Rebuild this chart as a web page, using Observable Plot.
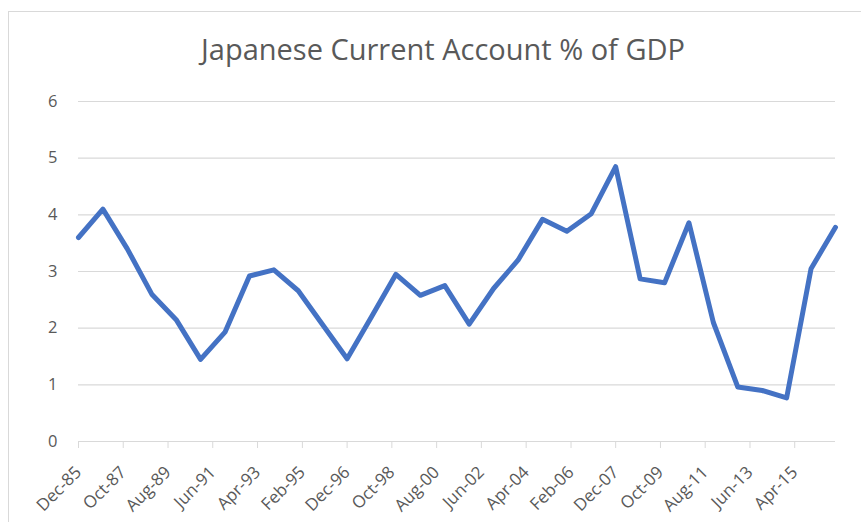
<!DOCTYPE html>
<html>
<head>
<meta charset="utf-8">
<script src="https://cdn.jsdelivr.net/npm/d3@7"></script>
<script src="https://cdn.jsdelivr.net/npm/@observablehq/plot@0.6"></script>
<style>
  html, body { margin: 0; padding: 0; background: #fff; overflow: hidden; }
  #wrap { position: relative; width: 861px; height: 522px; }
  #border { position: absolute; left: 8px; top: 11px; width: 900px; height: 600px; border: 1px solid #d9d9d9; box-sizing: border-box; }
  #chart { position: absolute; left: 0; top: 0; }
</style>
</head>
<body>
<div id="wrap"><div id="border"></div><div id="chart"></div></div>
<script>
const title = "Japanese Current Account % of GDP";
const years = [1985,1986,1987,1988,1989,1990,1991,1992,1993,1994,1995,1996,1997,1998,1999,2000,
               2001,2002,2003,2004,2005,2006,2007,2008,2009,2010,2011,2012,2013,2014,2015,2016];
const values = [3.6,4.1,3.4,2.6,2.15,1.45,1.93,2.92,3.03,2.66,2.06,1.46,2.2,2.95,2.58,2.75,
                2.07,2.7,3.2,3.92,3.71,4.02,4.85,2.87,2.8,3.86,2.1,0.96,0.9,0.77,3.05,3.78];
const tickLabels = ["Dec-85","Oct-87","Aug-89","Jun-91","Apr-93","Feb-95","Dec-96","Oct-98","Aug-00",
                    "Jun-02","Apr-04","Feb-06","Dec-07","Oct-09","Aug-11","Jun-13","Apr-15"];
const yTicks = [0,1,2,3,4,5,6];

const parse = d3.utcParse("%b-%y");
const fmt = d3.utcFormat("%b-%y");
const data = years.map((y, i) => ({date: new Date(Date.UTC(y, 11, 1)), value: values[i]}));
const xTicks = tickLabels.map(parse);

const chart = Plot.plot({
  width: 861,
  height: 522,
  marginLeft: 78,
  marginRight: 26,
  marginTop: 101,
  marginBottom: 81,
  style: {fontFamily: "'Open Sans', sans-serif", fontSize: "16px", color: "#595959", background: "transparent"},
  x: {type: "utc", domain: [data[0].date, data[data.length - 1].date]},
  y: {domain: [0, 6]},
  marks: [
    Plot.gridY(yTicks, {stroke: "#d9d9d9", strokeOpacity: 1, strokeWidth: 1.2}),
    Plot.axisY(yTicks, {tickSize: 0, tickPadding: 21, label: null, tickFormat: d => String(d), fill: "#595959"}),
    Plot.axisX(xTicks, {tickSize: 7, tickPadding: 21, tickRotate: -45, label: null, tickFormat: fmt, stroke: "#d9d9d9", fill: "#595959"}),
    Plot.line(data, {x: "date", y: "value", stroke: "#4472c4", strokeWidth: 5, strokeLinejoin: "round", strokeLinecap: "round"})
  ]
});

d3.select(chart).selectAll("g[aria-label='y-axis tick label'], g[aria-label='y-axis tick label'] text")
  .style("font-size", "16.5px");
d3.select(chart).selectAll("g[aria-label='x-axis tick label'], g[aria-label='x-axis tick label'] text")
  .style("font-size", "17px");

d3.select(chart).append("text")
  .attr("x", 443).attr("y", 60)
  .attr("text-anchor", "middle")
  .attr("fill", "#595959")
  .style("font-family", "'Open Sans', sans-serif")
  .style("font-size", "29px")
  .text(title);

document.getElementById("chart").appendChild(chart);
</script>
</body>
</html>
